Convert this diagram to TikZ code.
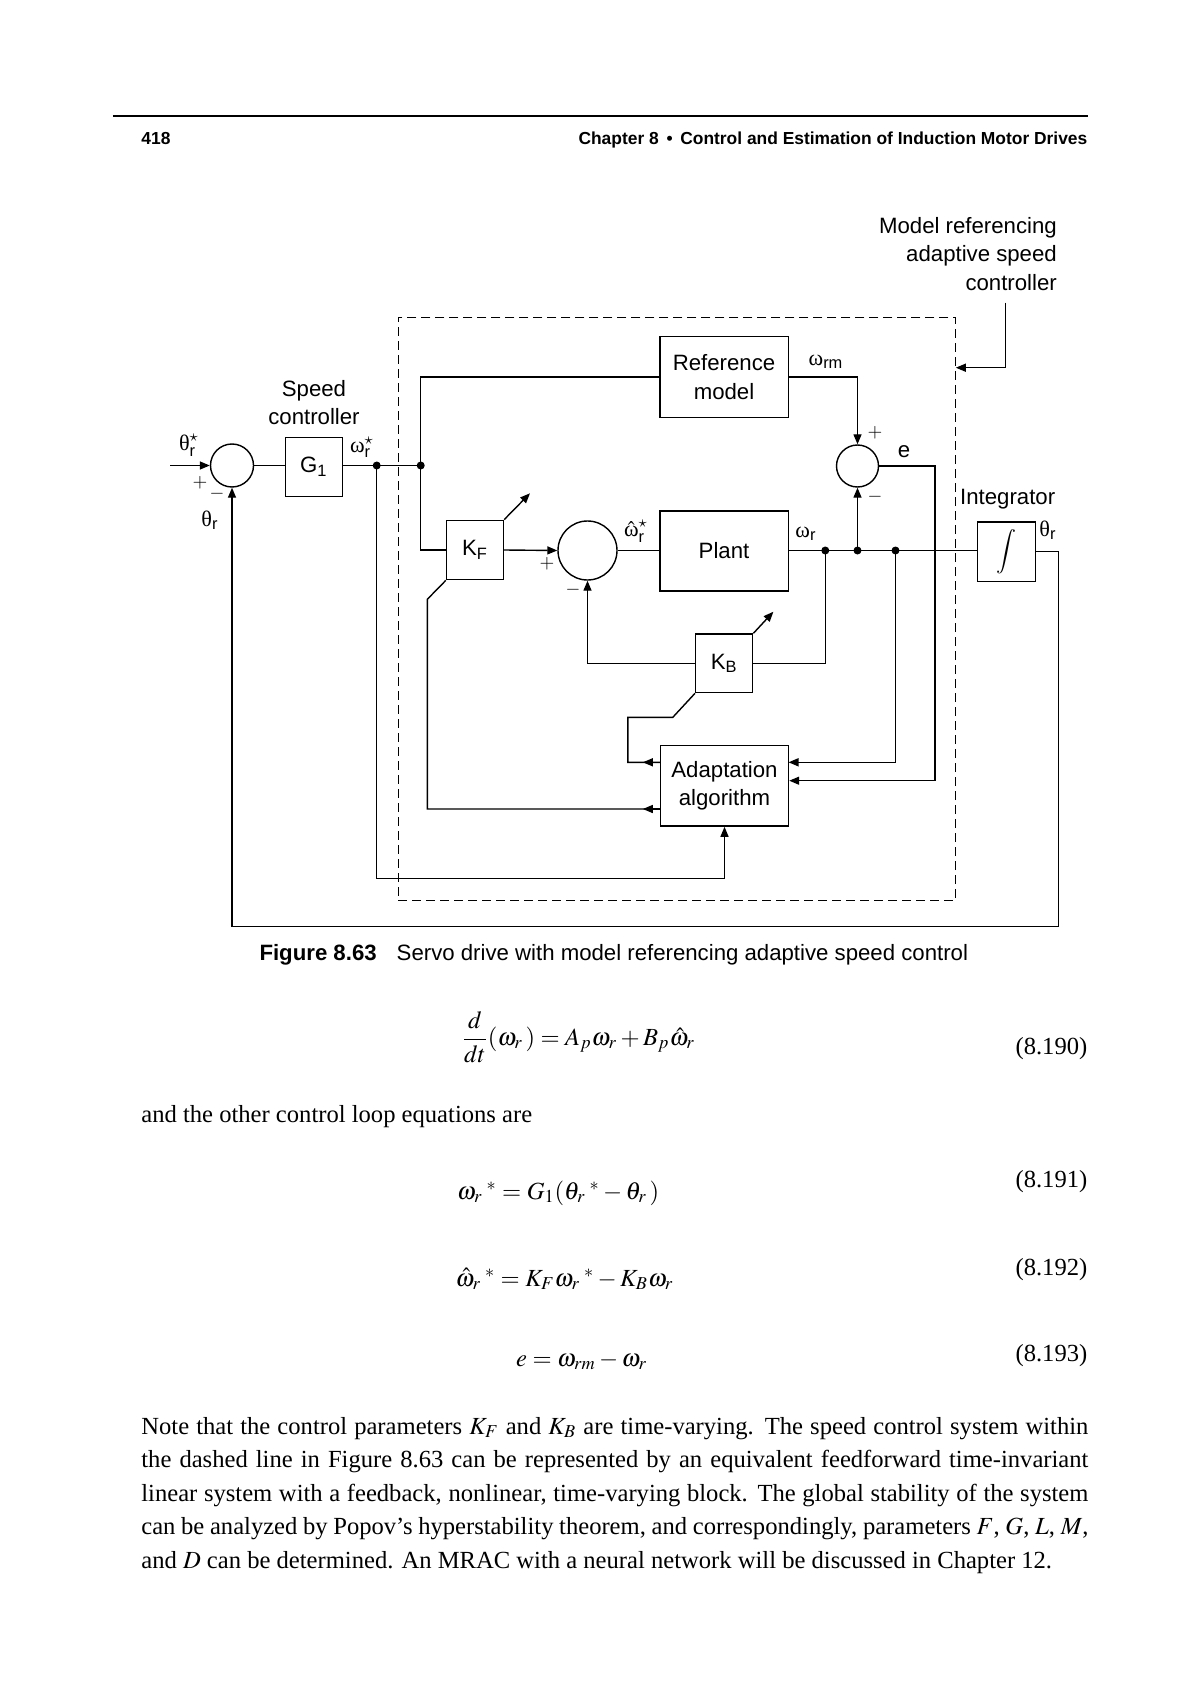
\documentclass[tikz,border=0pt]{standalone}
\usepackage{mathptmx}
\usepackage[no-math]{fontspec}
\setmainfont{Liberation Serif}
\setsansfont{Liberation Sans}
\usetikzlibrary{arrows.meta}

\newcommand{\gk}[1]{\mbox{\rmfamily #1}}
\newcommand{\ssub}[1]{\mbox{\sffamily\fontsize{8.2}{8}\selectfont #1}}
\newcommand{\jline}[1]{\hbox to 473.5pt{#1}}

\begin{document}
\begin{tikzpicture}[x=0.5pt,y=-0.5pt,
  line width=0.7pt,
  >={Triangle[length=5pt,width=4pt]},
  every node/.style={font=\sffamily\fontsize{11.1}{14.2}\selectfont, inner sep=0pt},
  blk/.style={draw, line width=0.7pt, inner sep=0pt},
  sumj/.style={draw, circle, line width=0.7pt, inner sep=0pt},
  jdot/.style={circle, fill, inner sep=0pt, minimum size=4pt},
  dbox/.style={draw, dash pattern=on 4.5pt off 2.5pt, line width=0.5pt, inner sep=0pt},
  sgn/.style={font=\fontsize{9.5}{9.5}\selectfont},
  body/.style={font=\rmfamily\fontsize{12.3}{16.75}\selectfont, inner sep=0pt},
  hdr/.style={font=\sffamily\bfseries\fontsize{8.7}{10}\selectfont},
]
\fill[white] (0,0) rectangle (1190,1684);
\useasboundingbox (0,0) rectangle (1190,1684);

% ---------- header ----------
\coordinate (hl) at (112.8,116);
\coordinate (hr) at (1088,116);
\draw[line width=0.75pt] (hl) -- (hr);
\node[hdr, anchor=base west] (pgno) at (140.7,145) {418};
\node[hdr, anchor=base east] (hdtxt) at (1088,145) {Chapter 8 \,\textbullet\, Control and Estimation of Induction Motor Drives};

% ---------- diagram blocks ----------
\node[dbox, minimum width=278.75pt, minimum height=291.6pt] (mrac) at (677,608.9) {};

\node[sumj, minimum size=21.5pt] (sum1) at (232,465.5) {};
\node[blk, minimum width=28.5pt, minimum height=29.5pt] (G1) at (313.8,467) {$\mbox{G}_{\ssub{1}}$};
\node[jdot] (d1) at (376.7,465.5) {};
\node[jdot] (d2) at (420.7,465.5) {};
\node[blk, minimum width=64.2pt, minimum height=40.5pt, align=center] (ref) at (724,377.2) {Reference\\model};
\node[sumj, minimum size=21pt] (sum3) at (857.5,466) {};

\node[blk, minimum width=28.5pt, minimum height=29.7pt] (KF) at (475,550) {$\mbox{K}_{\ssub{F}}$};
\node[sumj, minimum size=29.5pt] (sum2) at (587.5,550.5) {};
\node[blk, minimum width=64.2pt, minimum height=40pt] (plant) at (724,551) {Plant};
\node[jdot] (d3) at (825.3,550.5) {};
\node[jdot] (d4) at (857.5,550.5) {};
\node[jdot] (d5) at (895.5,550.5) {};
\node[blk, minimum width=29pt, minimum height=29.7pt] (integ) at (1006.3,551.5) {$\displaystyle\int$};

\node[blk, minimum width=28.5pt, minimum height=29.3pt] (KB) at (724.2,663.3) {$\mbox{K}_{\ssub{B}}$};
\node[blk, minimum width=64pt, minimum height=40.2pt, align=center] (adapt) at (724.5,785.9) {Adaptation\\algorithm};

% ---------- labels ----------
\node (tstar) at (189,445) {$\gk{θ}^{\star}_{\ssub{r}}$};
\node[sgn] (plus1) at (200,483) {$+$};
\node[sgn] (minus1) at (217,494) {$-$};
\node (thr) at (210,520) {$\gk{θ}_{\ssub{r}}$};
\node[anchor=base] (sc1) at (314,397) {Speed};
\node[anchor=base] (sc2) at (314,425) {controller};
\node (wrs) at (362,447) {$\gk{ω}^{\star}_{\ssub{r}}$};
\node (wrm) at (826,362) {$\gk{ω}_{\ssub{rm}}$};
\node[sgn] (plus3) at (875,433) {$+$};
\node (elab) at (904,452) {e};
\node[sgn] (minus3) at (875,497) {$-$};
\node (intlab) at (1007.7,499.3) {Integrator};
\node (thr2) at (1048,530) {$\gk{θ}_{\ssub{r}}$};
\node (wr) at (806,534) {$\gk{ω}_{\ssub{r}}$};
\node (whr) at (636,531) {$\hat{\gk{ω}}^{\star}_{\ssub{r}}$};
\node[sgn] (plus2) at (547,564) {$+$};
\node[sgn] (minus2) at (573,590) {$-$};

\node[anchor=base east] (mr1) at (1057.5,233.5) {Model referencing};
\node[anchor=base east] (mr2) at (1057.5,262) {adaptive speed};
\node[anchor=base east] (mr3) at (1057.5,290.5) {controller};

% ---------- connectors ----------
\coordinate (inp) at (170,465.5);
\draw[->] (inp) -- (sum1.west);
\draw (sum1.east) -- (G1.west |- sum1.east);
\draw (G1.east |- sum1.east) -- (d1.center) -- (d2.center);
\draw (d2.center) |- (ref.west);
\draw (d2.center) |- (KF.west);
\draw[->] (KF.east) -- (sum2.west);
\draw (sum2.east) -- (plant.west |- sum2.east);
\draw (plant.east |- sum2.east) -- (integ.west |- sum2.east);
\draw[->] (ref.east) -| (sum3.north);
\draw[->] (d4.center) -- (sum3.south);
\coordinate (ecor) at (935.1,780.7);
\draw[->] (sum3.east) -| (ecor) -- (adapt.east |- ecor);
\coordinate (in1) at (788.5,762.3);
\draw[->] (d5.center) |- (in1);
\draw (d3.center) |- (KB.east);
\draw[->] (KB.west) -| (sum2.south);
\coordinate (kbtip) at (773.4,611.7);
\draw[->] (KB.north east) -- (kbtip);
\coordinate (kftip) at (530,493.3);
\draw[->] (KF.north east) -- (kftip);
\coordinate (kb1) at (672.8,717.3);
\coordinate (kb2) at (627.9,717.3);
\coordinate (kb3) at (627.9,762.3);
\draw (KB.south west) -- (kb1) -- (kb2) -- (kb3) -- (adapt.west |- kb3);
\draw[->] (adapt.west |- kb3) -- ++(-17,0);
\coordinate (kf1) at (427.3,599.3);
\coordinate (kf2) at (427.3,809);
\draw (KF.south west) -- (kf1) -- (kf2) -- (adapt.west |- kf2);
\draw[->] (adapt.west |- kf2) -- ++(-17,0);
\coordinate (bot) at (724.5,878.3);
\draw[->] (d1.center) |- (bot) -- (adapt.south);
\coordinate (fb1) at (1058.6,551.5);
\coordinate (fb2) at (1058.6,926.5);
\coordinate (fb3) at (232,926.5);
\draw[->] (integ.east) -- (fb1) -- (fb2) -- (fb3) -- (sum1.south);
\coordinate (ptr) at (1005.3,302.7);
\coordinate (ptrend) at (955.8,367.7);
\draw[->] (ptr) |- (ptrend);

% ---------- caption ----------
\node[anchor=base west] (cap) at (258.8,960) {{\bfseries Figure 8.63}\hspace{10pt}Servo drive with model referencing adaptive speed control};

% ---------- equations ----------
\node[body, anchor=west] (eq190) at (461,1037) {$\displaystyle\frac{d}{dt}(\omega_r\,) = A_p\omega_r + B_p\hat{\omega}_r$};
\node[body, anchor=base east] (n190) at (1088,1054) {(8.190)};
\node[body, anchor=base west] (andtxt) at (140.7,1122.5) {and the other control loop equations are};
\node[body, anchor=base west] (eq191) at (456.5,1199) {$\omega_r{}^{\;*} = G_1(\theta_r{}^{\;*} - \theta_r\,)$};
\node[body, anchor=base east] (n191) at (1088,1187) {(8.191)};
\node[body, anchor=base west] (eq192) at (455,1286) {$\hat{\omega}_r{}^{\;*} = K_F\omega_r{}^{\;*} - K_B\omega_r$};
\node[body, anchor=base east] (n192) at (1088,1275) {(8.192)};
\node[body, anchor=base west] (eq193) at (515.5,1366) {$e = \omega_{rm} - \omega_r$};
\node[body, anchor=base east] (n193) at (1088,1361) {(8.193)};

% ---------- paragraph ----------
\node[body, anchor=base west] (para) at (140.7,1434) {\vtop{\baselineskip=16.75pt
\jline{Note that the control parameters $K_F$ and $K_B$ are time-varying. The speed control system within}
\jline{the dashed line in Figure 8.63 can be represented by an equivalent feedforward time-invariant}
\jline{linear system with a feedback, nonlinear, time-varying block. The global stability of the system}
\jline{can be analyzed by Popov’s hyperstability theorem, and correspondingly, parameters $F$, $G$, $L$, $M$,}
\hbox{and $D$ can be determined. An MRAC with a neural network will be discussed in Chapter 12.}}};
\end{tikzpicture}
\end{document}
